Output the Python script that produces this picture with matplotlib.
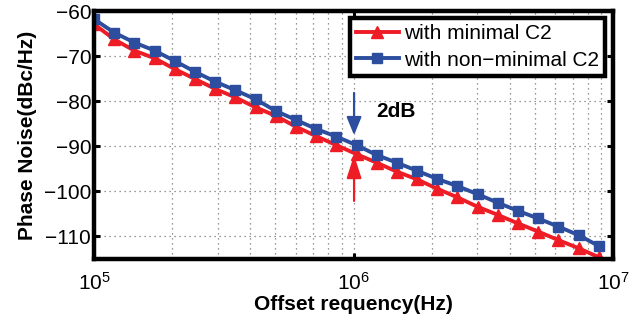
import numpy as np
import matplotlib
matplotlib.use("Agg")
import matplotlib.pyplot as plt
from matplotlib.ticker import LogLocator, NullFormatter

# offset frequencies (Hz)
freq = [1.00e5, 1.196e5, 1.43e5, 1.712e5, 2.047e5, 2.449e5, 2.93e5, 3.505e5,
        4.193e5, 5.015e5, 5.998e5, 7.175e5, 8.583e5, 1.027e6, 1.228e6,
        1.469e6, 1.757e6, 2.102e6, 2.514e6, 3.008e6, 3.597e6, 4.303e6,
        5.148e6, 6.158e6, 7.366e6, 8.81e6]

pn_minimal = [-62.9, -66.3, -68.8, -70.5, -72.9, -75.1, -77.3, -79.2, -81.4,
              -83.3, -85.7, -87.8, -89.8, -91.8, -93.7, -95.7, -97.4, -99.5,
              -101.4, -103.5, -105.3, -107.2, -109.0, -110.9, -112.7, -114.7]

pn_nonminimal = [-61.8, -64.8, -67.0, -68.8, -71.1, -73.5, -75.7, -77.6, -79.6,
                 -82.2, -84.2, -86.2, -87.9, -89.8, -92.0, -93.7, -95.5, -97.3,
                 -98.9, -100.7, -102.6, -104.4, -106.1, -107.9, -109.8, -112.2]

yticks = [-110, -100, -90, -80, -70, -60]

plt.rcParams['font.family'] = ['Liberation Sans', 'DejaVu Sans']
plt.rcParams['mathtext.default'] = 'regular'

red = "#EE1C25"
blue = "#2D4E9E"

fig = plt.figure(figsize=(6.37, 3.22), dpi=100)
ax = fig.add_axes([0.1476, 0.1957, 0.8147, 0.7701])

ax.semilogx(freq, pn_minimal, color=red, lw=2.8, marker='^', ms=8.5,
            label="with minimal C2")
ax.semilogx(freq, pn_nonminimal, color=blue, lw=2.8, marker='s', ms=7,
            label="with non\u2212minimal C2")

ax.set_xlim(1e5, 1e7)
ax.set_ylim(-115.1, -60)
ax.set_yticks(yticks)
ax.xaxis.set_major_locator(LogLocator(base=10, numticks=5))
ax.xaxis.set_minor_locator(LogLocator(base=10, subs=np.arange(2, 10), numticks=20))
ax.xaxis.set_minor_formatter(NullFormatter())

# grid MATLAB-like
ax.grid(True, which='major', linestyle=(0, (1, 3)), color='#777777', lw=0.9)
ax.grid(True, which='minor', axis='x', linestyle=(0, (1, 3)), color='#777777', lw=0.9)

ax.tick_params(which='major', direction='in', length=4, width=2.2,
               top=True, right=True, labelsize=15, pad=2)
ax.tick_params(which='minor', length=0)
ax.tick_params(axis='x', pad=9)
for s in ax.spines.values():
    s.set_linewidth(3.2)

ax.set_xlabel("Offset requency(Hz)", fontsize=15, fontweight='bold', labelpad=1)
ax.set_ylabel("Phase Noise(dBc/Hz)", fontsize=15, fontweight='bold', labelpad=5)

# 2dB annotation arrows
ax.annotate("", xy=(1.005e6, -87.6), xytext=(1.005e6, -78.2),
            arrowprops=dict(arrowstyle='-|>,head_width=0.45,head_length=1.1',
                            color=blue, lw=1.6, shrinkA=0, shrinkB=0))
ax.annotate("", xy=(1.005e6, -92.0), xytext=(1.005e6, -102.2),
            arrowprops=dict(arrowstyle='-|>,head_width=0.45,head_length=1.4',
                            color=red, lw=1.6, shrinkA=0, shrinkB=0))
ax.text(1.22e6, -82.4, "2dB", fontsize=15, fontweight='bold', va='center')

leg = ax.legend(loc='upper right', bbox_to_anchor=(0.9846, 0.9718),
                borderaxespad=0, fancybox=False, framealpha=1,
                edgecolor='black', fontsize=15, handlelength=2.05,
                borderpad=0.3, labelspacing=0.35, handletextpad=0.25)
leg.get_frame().set_linewidth(3.2)

fig.savefig("out.png", dpi=100)
